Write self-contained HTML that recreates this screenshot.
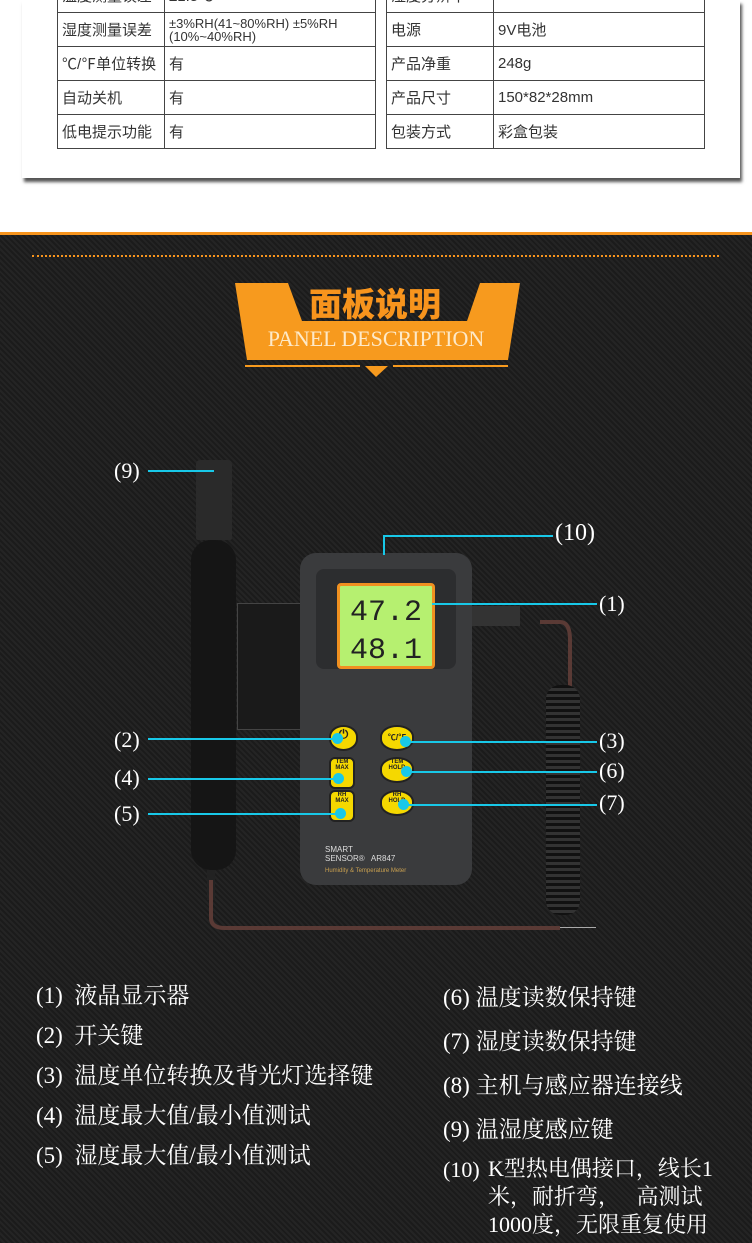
<!DOCTYPE html>
<html><head><meta charset="utf-8"><style>
body{margin:0;width:752px;height:1240px;position:relative;overflow:hidden;background:#fff;font-family:"Liberation Sans","Noto Sans CJK SC",sans-serif}
.a{position:absolute}
table{border-collapse:collapse;position:absolute;font-size:15px;color:#333}
td{border:1px solid #444;height:33px;padding:0 4px;vertical-align:middle}
.dk{position:absolute;left:0;top:232px;width:752px;height:1008px;background:repeating-linear-gradient(45deg,#1b1b1b 0 2px,#242424 2px 4px);border-top:3px solid #f7941d}
.lbl{position:absolute;color:#fff;font-family:"Liberation Serif","Noto Serif CJK SC",serif;font-size:22px}
.ln{position:absolute;background:#18c8e8;height:2px}
.dot{position:absolute;width:11px;height:11px;border-radius:50%;background:#18c8e8}
.it{position:absolute;color:#fff;font-family:"Liberation Serif","Noto Serif CJK SC",serif;font-size:23px;line-height:29px}
.btn{position:absolute;background:#f5d800;border-radius:50%/45%;border:2px solid #222;font-size:6px;color:#222;text-align:center;font-weight:bold}
</style></head><body>
<div class="a" style="left:22px;top:0;width:718px;height:178px;background:#fff;box-shadow:2px 4px 3px #555"></div>
<table style="left:57px;top:-22px;width:319px"><tr><td style="width:98px">温度测量误差</td><td>±1.5℃</td></tr>
<tr><td>湿度测量误差</td><td style="font-size:13px;line-height:13px">±3%RH(41~80%RH) ±5%RH (10%~40%RH)</td></tr>
<tr><td>℃/℉单位转换</td><td>有</td></tr><tr><td>自动关机</td><td>有</td></tr><tr><td>低电提示功能</td><td>有</td></tr></table>
<table style="left:386px;top:-22px;width:319px"><tr><td style="width:98px">湿度分辨率</td><td>0.1%RH</td></tr>
<tr><td>电源</td><td>9V电池</td></tr><tr><td>产品净重</td><td>248g</td></tr><tr><td>产品尺寸</td><td>150*82*28mm</td></tr><tr><td>包装方式</td><td>彩盒包装</td></tr></table>
<div class="dk"></div>
<div class="a" style="left:32px;top:255px;width:687px;border-top:2px dotted #f7941d"></div>
<svg class="a" style="left:0;top:0" width="752" height="400"><polygon points="235,283 288,283 302,321 467,321 480,283 520,283 508,360 247,360" fill="#f79a1e"/>
<rect x="245" y="365" width="115" height="2" fill="#f79a1e"/><rect x="393" y="365" width="115" height="2" fill="#f79a1e"/>
<polygon points="365,366 388,366 376,377" fill="#f79a1e"/></svg>
<div class="a" style="left:295px;top:278px;width:160px;text-align:center;color:#f7941d;font-size:33px;font-weight:900">面板说明</div>
<div class="a" style="left:247px;top:326px;width:258px;text-align:center;color:#fde9c8;font-family:'Liberation Serif',serif;font-size:22px">PANEL DESCRIPTION</div>
<!-- probe -->
<div class="a" style="left:196px;top:460px;width:36px;height:80px;background:#2a2a2a;border-radius:4px 4px 2px 2px"></div>
<div class="a" style="left:191px;top:540px;width:45px;height:330px;background:#151515;border-radius:20px"></div>
<div class="a" style="left:207px;top:870px;width:8px;height:30px;background:#222"></div>
<svg class="a" style="left:0;top:0" width="752" height="960"><path d="M211,880 L211,918 Q211,928 225,928 L560,928" stroke="#5a3a35" stroke-width="4" fill="none"/>
<path d="M540,622 L560,622 Q570,622 570,640 L570,690" stroke="#5a3a35" stroke-width="4" fill="none"/></svg>
<div class="a" style="left:546px;top:685px;width:34px;height:230px;background:repeating-linear-gradient(180deg,#111 0 3px,#333 3px 6px);border-radius:14px"></div>
<div class="a" style="left:237px;top:603px;width:66px;height:125px;background:#1a1a1a;border:1px solid #444"></div>
<div class="a" style="left:470px;top:606px;width:50px;height:20px;background:#333"></div>
<!-- body -->
<div class="a" style="left:300px;top:553px;width:172px;height:332px;background:#3a3b3d;border-radius:16px"></div>
<div class="a" style="left:316px;top:569px;width:140px;height:100px;background:#2c2d2f;border-radius:8px"></div>
<div class="a" style="left:337px;top:583px;width:98px;height:86px;background:#b6f070;border:3px solid #f09020;border-radius:4px;font-family:'Liberation Mono',monospace;font-size:30px;line-height:38px;color:#222;text-align:center;box-sizing:border-box;padding-top:8px">47.2<br>48.1</div>
<div class="btn" style="left:329px;top:725px;width:25px;height:22px;font-size:12px">⏻</div>
<div class="btn" style="left:380px;top:725px;width:30px;height:22px;font-size:8px;line-height:22px">℃/℉</div>
<div class="btn" style="left:329px;top:757px;width:22px;height:28px;border-radius:6px">TEM<br>MAX</div>
<div class="btn" style="left:380px;top:757px;width:30px;height:22px">TEM<br>HOLD</div>
<div class="btn" style="left:329px;top:790px;width:22px;height:28px;border-radius:6px">RH<br>MAX</div>
<div class="btn" style="left:380px;top:790px;width:30px;height:22px">RH<br>HOLD</div>
<div class="a" style="left:325px;top:845px;color:#ddd;font-size:8px">SMART<br>SENSOR® &nbsp; AR847</div>
<div class="a" style="left:325px;top:868px;color:#c9a050;font-size:6px">Humidity &amp; Temperature Meter</div>
<!-- callouts -->
<div class="lbl" style="left:114px;top:458px">(9)</div><div class="ln" style="left:148px;top:470px;width:66px"></div>
<div class="lbl" style="left:555px;top:520px;font-size:24px">(10)</div>
<div class="ln" style="left:383px;top:535px;width:170px"></div><div class="ln" style="left:383px;top:535px;width:2px;height:20px"></div>
<div class="lbl" style="left:599px;top:591px">(1)</div><div class="ln" style="left:432px;top:603px;width:165px"></div>
<div class="lbl" style="left:114px;top:727px">(2)</div><div class="ln" style="left:148px;top:738px;width:190px"></div><div class="dot" style="left:332px;top:733px"></div>
<div class="lbl" style="left:114px;top:765px">(4)</div><div class="ln" style="left:148px;top:778px;width:190px"></div><div class="dot" style="left:333px;top:773px"></div>
<div class="lbl" style="left:114px;top:801px">(5)</div><div class="ln" style="left:148px;top:813px;width:192px"></div><div class="dot" style="left:335px;top:808px"></div>
<div class="lbl" style="left:599px;top:728px">(3)</div><div class="ln" style="left:405px;top:741px;width:192px"></div><div class="dot" style="left:400px;top:736px"></div>
<div class="lbl" style="left:599px;top:758px">(6)</div><div class="ln" style="left:405px;top:771px;width:192px"></div><div class="dot" style="left:401px;top:766px"></div>
<div class="lbl" style="left:599px;top:790px">(7)</div><div class="ln" style="left:405px;top:804px;width:192px"></div><div class="dot" style="left:398px;top:799px"></div>
<div class="a" style="left:560px;top:927px;width:36px;height:1px;background:#aaa"></div>
<!-- list -->
<div class="it" style="left:36px;top:981px">(1)&nbsp; 液晶显示器</div>
<div class="it" style="left:36px;top:1021px">(2)&nbsp; 开关键</div>
<div class="it" style="left:36px;top:1061px">(3)&nbsp; 温度单位转换及背光灯选择键</div>
<div class="it" style="left:36px;top:1101px">(4)&nbsp; 温度最大值/最小值测试</div>
<div class="it" style="left:36px;top:1141px">(5)&nbsp; 湿度最大值/最小值测试</div>
<div class="it" style="left:443px;top:983px">(6) 温度读数保持键</div>
<div class="it" style="left:443px;top:1027px">(7) 湿度读数保持键</div>
<div class="it" style="left:443px;top:1071px">(8) 主机与感应器连接线</div>
<div class="it" style="left:443px;top:1115px">(9) 温湿度感应键</div>
<div class="it" style="left:443px;top:1155px;font-size:22px">(10)</div>
<div class="it" style="left:488px;top:1155px;font-size:22px;line-height:28px">K型热电偶接口，线长1<br>米，耐折弯，&nbsp;&nbsp;&nbsp;高测试<br>1000度，无限重复使用</div>
</body></html>
